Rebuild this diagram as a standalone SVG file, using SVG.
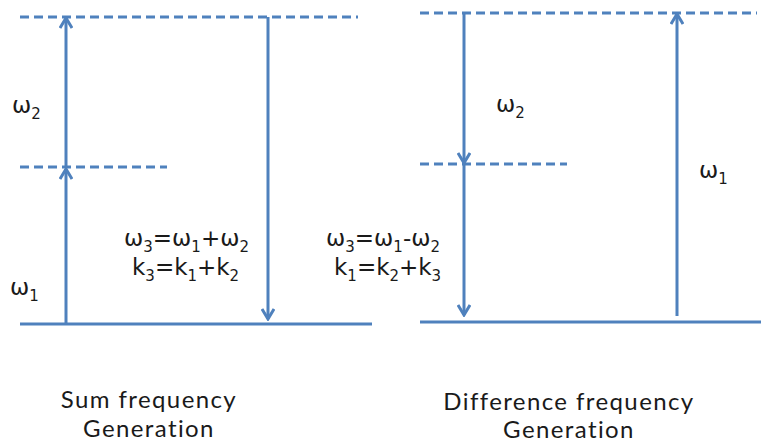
<svg xmlns="http://www.w3.org/2000/svg" width="761" height="444" viewBox="0 0 761 444">
<style>
.lvl{stroke:#4F81BD;stroke-width:2.8;fill:none}
.dash{stroke-dasharray:9 5}
.arr{stroke:#4F81BD;stroke-width:3;fill:none}
.t{font-family:"DejaVu Sans",sans-serif;font-size:23px;fill:#1a1a1a}
.s{font-size:15px}
.cap{font-family:Lato,"Liberation Sans",sans-serif;font-size:24px;letter-spacing:1.4px;fill:#1a1a1a;text-anchor:middle}
</style>
<defs>
<marker id="ah" viewBox="0 0 14 14" refX="12" refY="7" markerWidth="14" markerHeight="14" markerUnits="userSpaceOnUse" orient="auto">
<path d="M2,1 L12,7 L2,13" stroke="#4F81BD" stroke-width="3" fill="none"/>
</marker>
</defs>
<g id="levels">
<line class="lvl dash" x1="20" y1="17" x2="358" y2="17"/>
<line class="lvl dash" x1="20" y1="167" x2="167" y2="167"/>
<line class="lvl" x1="20" y1="324" x2="372" y2="324"/>
<line class="lvl dash" x1="420" y1="13" x2="757" y2="13"/>
<line class="lvl dash" x1="420" y1="164" x2="567" y2="164"/>
<line class="lvl" x1="420" y1="322" x2="761" y2="322"/>
</g>
<g id="connectors">
<line class="arr" x1="66" y1="324" x2="66" y2="169" marker-end="url(#ah)"/>
<line class="arr" x1="66" y1="167" x2="66" y2="18" marker-end="url(#ah)"/>
<line class="arr" x1="268" y1="17" x2="268" y2="319" marker-end="url(#ah)"/>
<line class="arr" x1="464" y1="13" x2="464" y2="163" marker-end="url(#ah)"/>
<line class="arr" x1="464" y1="164" x2="464" y2="315" marker-end="url(#ah)"/>
<line class="arr" x1="677" y1="316" x2="677" y2="14" marker-end="url(#ah)"/>
</g>
<g id="sum-labels">
<text class="t" x="12" y="113">ω<tspan class="s" dy="6">2</tspan></text>
<text class="t" x="10" y="295">ω<tspan class="s" dy="6">1</tspan></text>
<text class="t" x="124" y="246">ω<tspan class="s" dy="6">3</tspan><tspan dy="-6">=ω</tspan><tspan class="s" dy="6">1</tspan><tspan dy="-6">+ω</tspan><tspan class="s" dy="6">2</tspan></text>
<text class="t" x="132" y="275">k<tspan class="s" dy="6">3</tspan><tspan dy="-6">=k</tspan><tspan class="s" dy="6">1</tspan><tspan dy="-6">+k</tspan><tspan class="s" dy="6">2</tspan></text>
</g>
<g id="diff-labels">
<text class="t" x="496" y="112">ω<tspan class="s" dy="6">2</tspan></text>
<text class="t" x="699" y="178">ω<tspan class="s" dy="6">1</tspan></text>
<text class="t" x="326" y="246">ω<tspan class="s" dy="6">3</tspan><tspan dy="-6">=ω</tspan><tspan class="s" dy="6">1</tspan><tspan dy="-6">-ω</tspan><tspan class="s" dy="6">2</tspan></text>
<text class="t" x="334" y="275">k<tspan class="s" dy="6">1</tspan><tspan dy="-6">=k</tspan><tspan class="s" dy="6">2</tspan><tspan dy="-6">+k</tspan><tspan class="s" dy="6">3</tspan></text>
</g>
<g id="captions">
<text class="cap" x="149" y="408">Sum frequency</text>
<text class="cap" x="149" y="437">Generation</text>
<text class="cap" x="569" y="410">Difference frequency</text>
<text class="cap" x="569" y="438">Generation</text>
</g>
</svg>
